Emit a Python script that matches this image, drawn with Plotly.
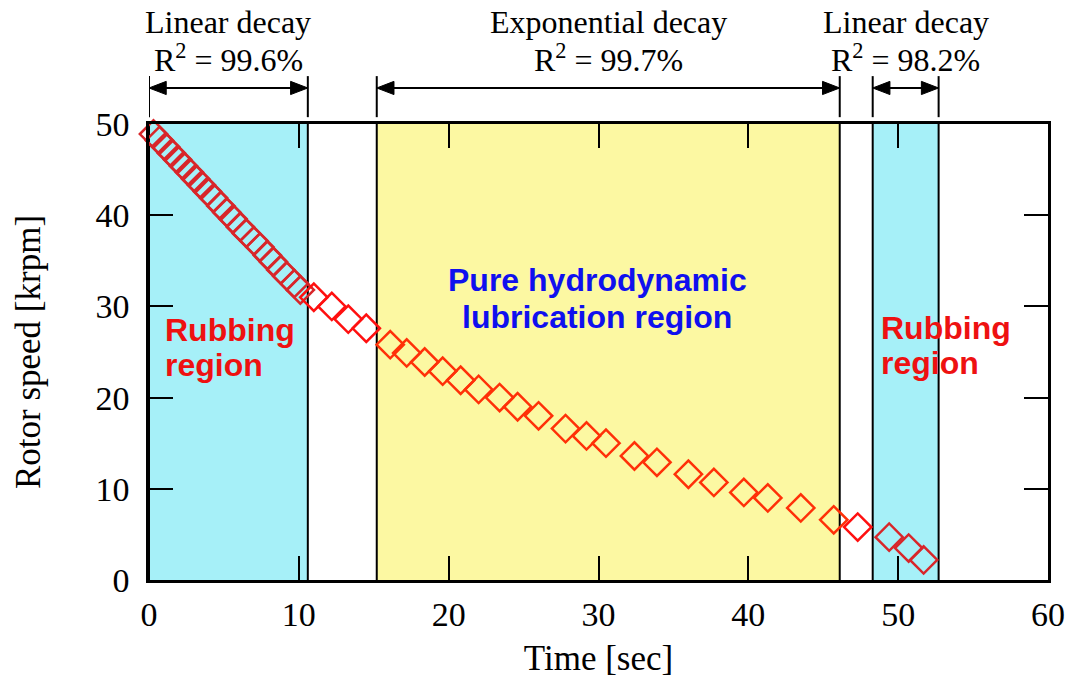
import plotly.graph_objects as go

# ---- data ----
time_s = [0.3, 0.7, 1.1, 1.5, 1.9, 2.3, 2.7, 3.1, 3.5, 3.9, 4.3, 4.8, 5.2, 5.6,
          6.1, 6.5, 7.0, 7.4, 7.9, 8.3, 8.8, 9.2, 9.7, 10.1,
          11.0, 12.2, 13.3, 14.5,
          16.1, 17.2, 18.4, 19.6, 20.8, 22.0, 23.4, 24.6, 26.0, 27.8, 29.2, 30.5,
          32.4, 33.9, 36.0, 37.7, 39.7, 41.3, 43.5, 45.7,
          47.3, 49.4, 50.7, 51.7]
speed_krpm = [48.9, 48.2, 47.5, 46.8, 46.1, 45.4, 44.7, 44.0, 43.3, 42.6, 41.9, 41.0, 40.3, 39.6,
              38.7, 38.0, 37.2, 36.5, 35.6, 34.9, 34.0, 33.3, 32.5, 31.8,
              31.0, 30.0, 28.6, 27.6,
              25.8, 24.9, 23.9, 22.9, 21.9, 20.9, 20.0, 19.0, 18.0, 16.6, 15.8, 15.0,
              13.6, 12.9, 11.6, 10.7, 9.6, 9.0, 7.9, 6.6,
              5.8, 4.7, 3.5, 2.2]

region_starts = [0.0, 15.2, 48.3]
region_ends = [10.6, 46.1, 52.7]
region_colors = ["#a6f0f8", "#fcf8a2", "#a6f0f8"]
region_marker_colors = ["#d8262a", "#ff3008", "#d8262a"]
fit_names = ["Linear decay", "Exponential decay", "Linear decay"]
fit_r2 = ["99.6%", "99.7%", "98.2%"]

x_ticks = [0, 10, 20, 30, 40, 50, 60]
y_ticks = [0, 10, 20, 30, 40, 50]


def marker_color(t):
    for x0, x1, mc in zip(region_starts, region_ends, region_marker_colors):
        if x0 <= t <= x1:
            return mc
    return "#ff1010"


colors = [marker_color(t) for t in time_s]

fig = go.Figure()

fig.add_trace(go.Scatter(
    x=time_s, y=speed_krpm, mode="markers",
    marker=dict(symbol="diamond-open", size=21, color=colors,
                line=dict(width=2.5, color=colors)),
    showlegend=False, cliponaxis=False,
))

serif = "Liberation Serif, Times New Roman, serif"
sans = "Liberation Sans, Arial, sans-serif"

# arrow geometry (decoration, in axis/paper units)
ARROW_Y = 1.079
HEAD_LEN = 1.15      # seconds (~17 px)
HEAD_HALF = 0.0145   # paper (~6.5 px)

shapes = []
annotations = []
for x0, x1, c, name, r2 in zip(region_starts, region_ends, region_colors, fit_names, fit_r2):
    shapes.append(dict(type="rect", xref="x", yref="y", x0=x0, x1=x1, y0=0, y1=50,
                       fillcolor=c, line=dict(width=0), layer="below"))
    for xv in (x0, x1):
        shapes.append(dict(type="line", xref="x", yref="y", x0=xv, x1=xv, y0=0, y1=50,
                           line=dict(color="black", width=2), layer="below"))
        shapes.append(dict(type="line", xref="x", yref="paper", x0=xv, x1=xv,
                           y0=1.015, y1=1.105, line=dict(color="black", width=2)))
    # double-headed arrow
    shapes.append(dict(type="line", xref="x", yref="paper", x0=x0 + 0.5, x1=x1 - 0.5,
                       y0=ARROW_Y, y1=ARROW_Y, line=dict(color="black", width=2)))
    shapes.append(dict(type="path", xref="x", yref="paper",
                       path=f"M {x0} {ARROW_Y} L {x0 + HEAD_LEN} {ARROW_Y + HEAD_HALF} "
                            f"L {x0 + HEAD_LEN} {ARROW_Y - HEAD_HALF} Z",
                       fillcolor="black", line=dict(color="black", width=1)))
    shapes.append(dict(type="path", xref="x", yref="paper",
                       path=f"M {x1} {ARROW_Y} L {x1 - HEAD_LEN} {ARROW_Y + HEAD_HALF} "
                            f"L {x1 - HEAD_LEN} {ARROW_Y - HEAD_HALF} Z",
                       fillcolor="black", line=dict(color="black", width=1)))
    annotations.append(dict(xref="x", yref="paper", x=(x0 + x1) / 2, y=1.2237,
                            yanchor="middle", showarrow=False, text=name,
                            font=dict(family=serif, size=32, color="black")))
    annotations.append(dict(xref="x", yref="paper", x=(x0 + x1) / 2, y=1.1447,
                            yanchor="middle", showarrow=False,
                            text=f"R<sup>2</sup> = {r2}",
                            font=dict(family=serif, size=32, color="black")))

label_specs = [
    (0.93, 27.4, "Rubbing", "left", "#ee1111"),
    (0.93, 23.6, "region", "left", "#ee1111"),
    (48.7, 27.6, "Rubbing", "left", "#ee1111"),
    (48.7, 23.8, "region", "left", "#ee1111"),
    (29.9, 32.9, "Pure hydrodynamic", "center", "#1010ee"),
    (29.9, 28.8, "lubrication region", "center", "#1010ee"),
]
for lx, ly, txt, anc, col in label_specs:
    annotations.append(dict(xref="x", yref="y", x=lx, y=ly, xanchor=anc, yanchor="middle",
                            showarrow=False, text=f"<b>{txt}</b>",
                            font=dict(family=sans, size=32, color=col)))

axis_common = dict(showgrid=False, zeroline=False, showline=True, linecolor="black",
                   linewidth=2.5, mirror="allticks", ticks="inside", ticklen=24,
                   tickwidth=2, tickcolor="black",
                   tickfont=dict(family=serif, size=34, color="black"))

fig.update_layout(
    width=1078, height=687,
    margin=dict(l=149, r=30, t=124, b=107),
    paper_bgcolor="white", plot_bgcolor="white",
    shapes=shapes, annotations=annotations,
    xaxis=dict(range=[0, 60], tickvals=x_ticks, ticklabelstandoff=2,
               title=dict(text="Time [sec]", font=dict(family=serif, size=35, color="black"),
                          standoff=14),
               **axis_common),
    yaxis=dict(range=[0, 50], tickvals=y_ticks, ticklabelstandoff=10,
               title=dict(text="Rotor speed [krpm]", font=dict(family=serif, size=35, color="black"),
                          standoff=45),
               **axis_common),
)

fig.write_html("out.html")
